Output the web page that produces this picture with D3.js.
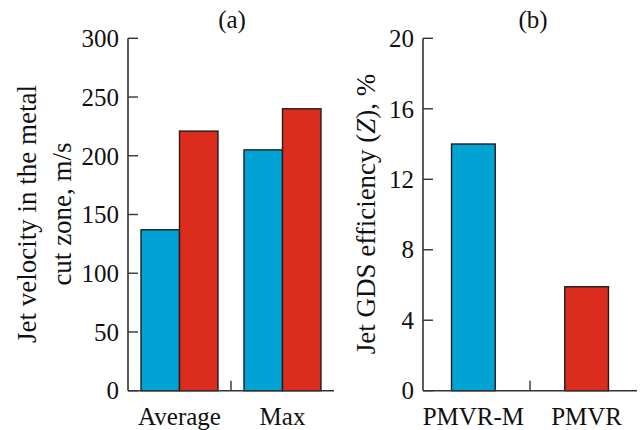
<!DOCTYPE html>
<html>
<head>
<meta charset="utf-8">
<script src="https://cdn.jsdelivr.net/npm/d3@7"></script>
<style>
  html, body { margin: 0; padding: 0; background: #fff; }
  svg text { font-family: "Liberation Serif", "Times New Roman", Times, serif; fill: #111; }
</style>
</head>
<body>
<svg id="chart" width="640" height="430"></svg>
<script>
// ---- data ----
const velCategories = ["Average", "Max"];
const velSeries     = ["PMVR-M", "PMVR"];
const velValues     = [[137, 221], [205, 240]];   // [blue, red] per category
const velTicks      = [0, 50, 100, 150, 200, 250, 300];

const effCategories = ["PMVR-M", "PMVR"];
const effValues     = [14, 5.9];
const effTicks      = [0, 4, 8, 12, 16, 20];

const colors = { "PMVR-M": "#00a3d4", "PMVR": "#db2c1d" };

const svg = d3.select("#chart");
const yTop = 38.3, yBot = 390.7;
const tickSize = 25, labelSize = 27;
const catBaseline = 425;

function drawAxes(g, x0, x1, y, ticks, midX) {
  // y axis line + inward ticks
  g.append("line")
    .attr("x1", x0).attr("x2", x0)
    .attr("y1", y(ticks[0])).attr("y2", y(ticks[ticks.length - 1]))
    .attr("stroke", "#333").attr("stroke-width", 1.6);
  ticks.forEach(t => {
    g.append("line")
      .attr("x1", x0).attr("x2", x0 + 10)
      .attr("y1", y(t)).attr("y2", y(t))
      .attr("stroke", "#333").attr("stroke-width", 1.4);
    g.append("text")
      .attr("x", x0 - 9).attr("y", y(t)).attr("dy", "0.35em")
      .attr("text-anchor", "end")
      .style("font-size", tickSize + "px")
      .text(t);
  });
  // x axis line
  g.append("line")
    .attr("x1", x0).attr("x2", x1)
    .attr("y1", y(0)).attr("y2", y(0))
    .attr("stroke", "#333").attr("stroke-width", 1.6);
  // separator tick between categories
  g.append("line")
    .attr("x1", midX).attr("x2", midX)
    .attr("y1", y(0)).attr("y2", y(0) - 10)
    .attr("stroke", "#333").attr("stroke-width", 1.4);
}

// =====================================================
// (a) Jet velocity
// =====================================================
{
  const g = svg.append("g");
  const x = d3.scaleBand().domain(velCategories).range([128, 334]);
  const xs = d3.scaleBand().domain(velSeries)
    .range([0, x.bandwidth()]).paddingOuter(0.338);
  const y = d3.scaleLinear().domain([0, 300]).range([yBot, yTop]);

  velCategories.forEach((c, i) => {
    velSeries.forEach((s, j) => {
      g.append("rect")
        .attr("x", x(c) + xs(s))
        .attr("y", y(velValues[i][j]))
        .attr("width", xs.bandwidth())
        .attr("height", y(0) - y(velValues[i][j]))
        .attr("fill", colors[s])
        .attr("stroke", "#1e1e1e").attr("stroke-width", 1.4);
    });
    g.append("text")
      .attr("x", x(c) + x.bandwidth() / 2).attr("y", catBaseline)
      .attr("text-anchor", "middle")
      .style("font-size", tickSize + "px")
      .text(c);
  });

  drawAxes(g, 128, 334, y, velTicks, x(velCategories[1]));

  g.append("text")
    .attr("x", 232).attr("y", 28).attr("text-anchor", "middle")
    .style("font-size", tickSize + "px").text("(a)");

  const lab = g.append("text")
    .attr("transform", "translate(0,214) rotate(-90)")
    .attr("text-anchor", "middle")
    .style("font-size", labelSize + "px");
  lab.append("tspan").attr("x", 0).attr("y", 36).text("Jet velocity in the metal");
  lab.append("tspan").attr("x", 0).attr("y", 71).text("cut zone, m/s");
}

// =====================================================
// (b) Jet GDS efficiency
// =====================================================
{
  const g = svg.append("g");
  const x = d3.scaleBand().domain(effCategories)
    .range([423, 637]).paddingInner(0.614).paddingOuter(0.252);
  const y = d3.scaleLinear().domain([0, 20]).range([yBot, yTop]);

  effCategories.forEach((c, i) => {
    g.append("rect")
      .attr("x", x(c))
      .attr("y", y(effValues[i]))
      .attr("width", x.bandwidth())
      .attr("height", y(0) - y(effValues[i]))
      .attr("fill", colors[c])
      .attr("stroke", "#1e1e1e").attr("stroke-width", 1.4);
    g.append("text")
      .attr("x", x(c) + x.bandwidth() / 2).attr("y", catBaseline)
      .attr("text-anchor", "middle")
      .style("font-size", tickSize + "px")
      .text(c);
  });

  const mid = (x(effCategories[0]) + x.bandwidth() + x(effCategories[1])) / 2;
  drawAxes(g, 423, 637, y, effTicks, mid);

  g.append("text")
    .attr("x", 533).attr("y", 28).attr("text-anchor", "middle")
    .style("font-size", tickSize + "px").text("(b)");

  const lab = g.append("text")
    .attr("transform", "translate(375,214) rotate(-90)")
    .attr("text-anchor", "middle")
    .style("font-size", labelSize + "px");
  lab.append("tspan").text("Jet GDS efficiency (");
  lab.append("tspan").style("font-style", "italic").text("Z");
  lab.append("tspan").text("), %");
}
</script>
</body>
</html>
